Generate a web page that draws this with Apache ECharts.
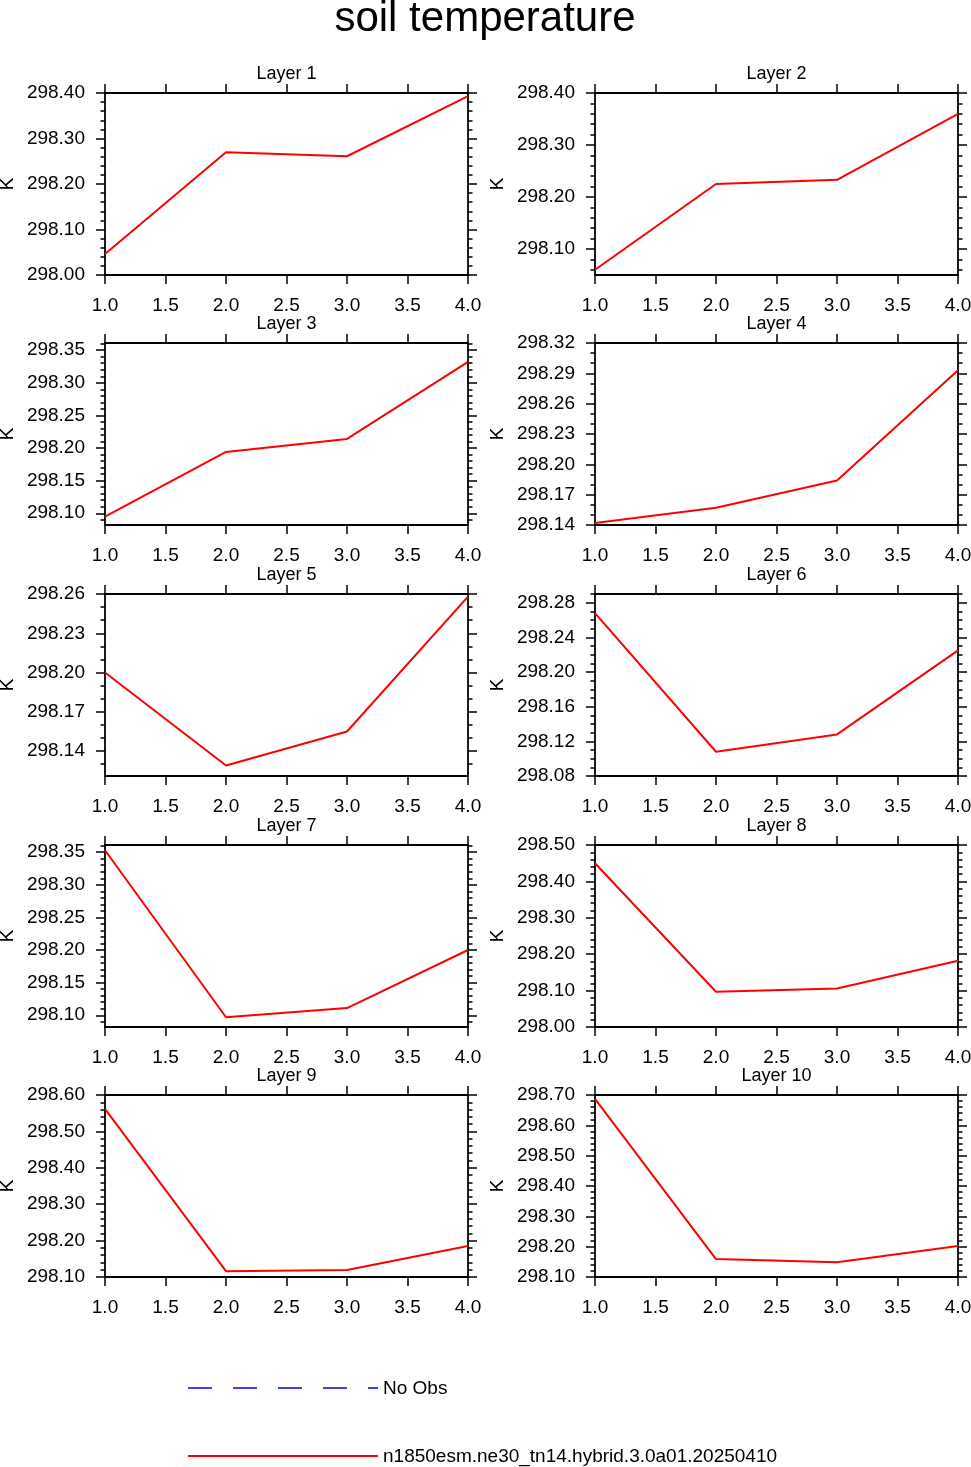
<!DOCTYPE html>
<html lang="en">
<head>
    <meta charset="UTF-8">
    <title>soil temperature</title>
    <script src="https://cdn.jsdelivr.net/npm/echarts@6.0.0/dist/echarts.min.js"></script>
    <style>
        html, body { margin: 0; padding: 0; background: #fff; }
        #main { width: 971px; height: 1467px; }
    </style>
</head>
<body>
    <div id="main"></div>

    <script type="text/javascript">
        // x positions shared by all panels
        var xValues = [1, 2, 3, 4];

        var layerNames = ['Layer 1', 'Layer 2', 'Layer 3', 'Layer 4', 'Layer 5',
                          'Layer 6', 'Layer 7', 'Layer 8', 'Layer 9', 'Layer 10'];

        // model values per layer (K)
        var layer1  = [298.046, 298.270, 298.261, 298.393];
        var layer2  = [298.060, 298.225, 298.233, 298.360];
        var layer3  = [298.095, 298.194, 298.214, 298.332];
        var layer4  = [298.142, 298.157, 298.184, 298.293];
        var layer5  = [298.200, 298.129, 298.155, 298.258];
        var layer6  = [298.268, 298.108, 298.128, 298.225];
        var layer7  = [298.353, 298.097, 298.111, 298.200];
        var layer8  = [298.450, 298.097, 298.106, 298.182];
        var layer9  = [298.562, 298.116, 298.119, 298.185];
        var layer10 = [298.687, 298.159, 298.149, 298.202];
        var layers = [layer1, layer2, layer3, layer4, layer5,
                      layer6, layer7, layer8, layer9, layer10];

        // y axis extents and tick labels per layer
        var yMin = [298.00, 298.05, 298.082, 298.14, 298.121, 298.08, 298.082, 298.00, 298.10, 298.10];
        var yMax = [298.40, 298.40, 298.361, 298.32, 298.26, 298.29, 298.361, 298.50, 298.60, 298.70];
        var yTicks = [
            [298.00, 298.10, 298.20, 298.30, 298.40],
            [298.10, 298.20, 298.30, 298.40],
            [298.10, 298.15, 298.20, 298.25, 298.30, 298.35],
            [298.14, 298.17, 298.20, 298.23, 298.26, 298.29, 298.32],
            [298.14, 298.17, 298.20, 298.23, 298.26],
            [298.08, 298.12, 298.16, 298.20, 298.24, 298.28],
            [298.10, 298.15, 298.20, 298.25, 298.30, 298.35],
            [298.00, 298.10, 298.20, 298.30, 298.40, 298.50],
            [298.10, 298.20, 298.30, 298.40, 298.50, 298.60],
            [298.10, 298.20, 298.30, 298.40, 298.50, 298.60, 298.70]
        ];
        var yMinorStep = [0.02, 0.02, 0.01, 0.01, 0.01, 0.01, 0.01, 0.02, 0.02, 0.02];
        var yUnit = 'K';

        var FONT = 'Liberation Sans';
        // fresh objects each time, no shared style objects between axes
        function axisLineStyle() { return { color: '#000', width: 1.8 }; }
        function tickLineStyle() { return { color: '#000', width: 1.5 }; }

        // minor tick positions between the axis ends
        function minorValues(min, max, step) {
            var out = [];
            var k0 = Math.ceil(min / step - 1e-6);
            var k1 = Math.floor(max / step + 1e-6);
            for (var k = k0; k <= k1; k++) out.push(+(k * step).toFixed(4));
            return out;
        }

        var colLeft = [105, 595];
        var plotW = 363;
        var rowTop = [93, 343, 594, 845, 1095];
        var plotH = 182;

        function buildOption(noBounds) {
            var grids = [], xAxes = [], yAxes = [], series = [], graphics = [];

            for (var i = 0; i < layers.length; i++) {
                var col = i % 2, row = Math.floor(i / 2);
                var left = colLeft[col], top = rowTop[row];
                var g = { left: left, top: top, width: plotW, height: plotH };
                if (noBounds) g.outerBoundsMode = 'none';
                grids.push(g);

                // bottom + top x axes
                xAxes.push({
                    type: 'value', gridIndex: i, position: 'bottom',
                    min: 1, max: 4, interval: 0.5,
                    axisLine: { show: true, onZero: false, lineStyle: axisLineStyle() },
                    axisTick: { show: true, length: 9, lineStyle: tickLineStyle() },
                    axisLabel: { margin: 21, fontSize: 19, color: '#000', fontFamily: FONT,
                                 formatter: function (v) { return v.toFixed(1); } },
                    splitLine: { show: false }
                });
                xAxes.push({
                    type: 'value', gridIndex: i, position: 'top',
                    min: 1, max: 4, interval: 0.5,
                    axisLine: { show: true, onZero: false, lineStyle: axisLineStyle() },
                    axisTick: { show: true, length: 9, lineStyle: tickLineStyle() },
                    axisLabel: { show: false },
                    splitLine: { show: false }
                });

                // left and right y axes: one for major ticks, one for minor ticks
                var minors = minorValues(yMin[i], yMax[i], yMinorStep[i]);
                var sides = ['left', 'right'];
                for (var s = 0; s < 2; s++) {
                    var pos = sides[s];
                    var major = {
                        type: 'value', gridIndex: i, position: pos,
                        min: yMin[i], max: yMax[i],
                        axisLine: { show: true, onZero: false, lineStyle: axisLineStyle() },
                        axisTick: { show: true, length: 9, customValues: yTicks[i].slice(), lineStyle: tickLineStyle() },
                        axisLabel: { show: false },
                        splitLine: { show: false }
                    };
                    if (pos === 'left') {
                        major.axisLabel = {
                            show: true, customValues: yTicks[i].slice(), margin: 20,
                            fontSize: 19, color: '#000', fontFamily: FONT,
                            formatter: function (v) { return v.toFixed(2); }
                        };
                    }
                    yAxes.push(major);
                    yAxes.push({
                        type: 'value', gridIndex: i, position: pos,
                        min: yMin[i], max: yMax[i],
                        axisLine: { show: false, onZero: false },
                        axisTick: { show: true, length: 4.5, customValues: minors.slice(), lineStyle: tickLineStyle() },
                        axisLabel: { show: false },
                        splitLine: { show: false }
                    });
                }

                series.push({
                    type: 'line',
                    xAxisIndex: 2 * i, yAxisIndex: 4 * i,
                    data: xValues.map(function (x, j) { return [x, layers[i][j]]; }),
                    symbol: 'none',
                    lineStyle: { color: '#ff0000', width: 2 }
                });

                // panel title and unit label
                graphics.push({
                    type: 'text', x: left + plotW / 2, y: top - 19,
                    style: { text: layerNames[i], textAlign: 'center', textVerticalAlign: 'middle',
                             fontSize: 18, fontFamily: FONT, fill: '#000' }
                });
                graphics.push({
                    type: 'text', x: left - 97, y: top + plotH / 2, rotation: Math.PI / 2,
                    style: { text: yUnit, textAlign: 'center', textVerticalAlign: 'middle',
                             fontSize: 19, fontFamily: FONT, fill: '#000' }
                });
            }

            // main title
            graphics.push({
                type: 'text', x: 485, y: 19,
                style: { text: 'soil temperature', textAlign: 'center', textVerticalAlign: 'middle',
                         fontSize: 42, fontFamily: FONT, fill: '#000' }
            });

            // legend
            graphics.push({
                type: 'line', shape: { x1: 188, y1: 1388, x2: 378, y2: 1388 },
                style: { stroke: '#0000ff', lineWidth: 1.5, lineDash: [24, 21] }
            });
            graphics.push({
                type: 'text', x: 383, y: 1389,
                style: { text: 'No Obs', textAlign: 'left', textVerticalAlign: 'middle',
                         fontSize: 19, fontFamily: FONT, fill: '#000' }
            });
            graphics.push({
                type: 'line', shape: { x1: 188, y1: 1456, x2: 378, y2: 1456 },
                style: { stroke: '#ff0000', lineWidth: 2 }
            });
            graphics.push({
                type: 'text', x: 383, y: 1457,
                style: { text: 'n1850esm.ne30_tn14.hybrid.3.0a01.20250410', textAlign: 'left', textVerticalAlign: 'middle',
                         fontSize: 19, fontFamily: FONT, fill: '#000' }
            });

            return {
                animation: false,
                grid: grids,
                xAxis: xAxes,
                yAxis: yAxes,
                series: series,
                graphic: graphics
            };
        }

        var el = document.getElementById('main');
        var myChart = echarts.init(el);
        try {
            myChart.setOption(buildOption(true));
        } catch (e) {
            // fall back to default grid bounds handling
            myChart.dispose();
            myChart = echarts.init(el);
            myChart.setOption(buildOption(false));
        }
    </script>
</body>
</html>
